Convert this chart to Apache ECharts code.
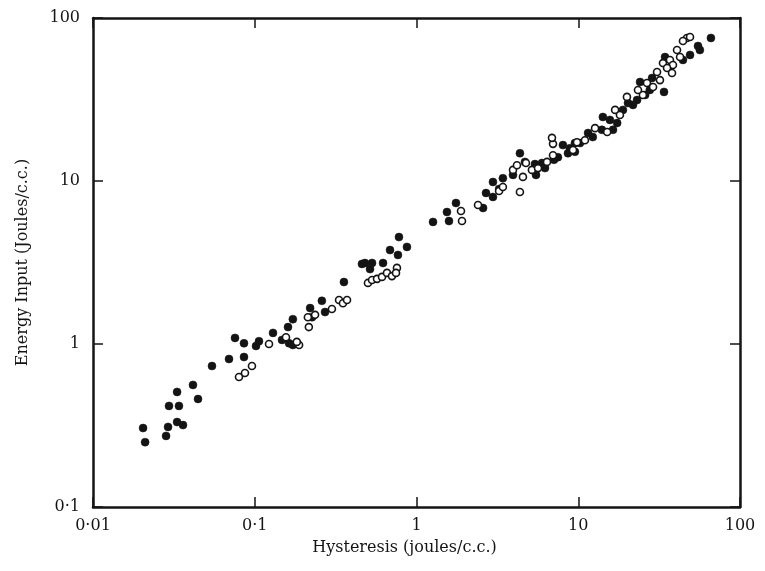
<!DOCTYPE html>
<html>
<head>
<meta charset="utf-8">
<script src="https://cdn.jsdelivr.net/npm/echarts@6/dist/echarts.min.js"></script>
<style>
html,body{margin:0;padding:0;background:#fff;}
#chart{width:765px;height:571px;}
</style>
</head>
<body>
<div id="chart"></div>
<script>
// Tick labels (log decades)
var xTickLabels = ['0·01', '0·1', '1', '10', '100'];
var yTickLabels = ['0·1', '1', '10', '100'];
var xTitle = 'Hysteresis (joules/c.c.)';
var yTitle = 'Energy Input (Joules/c.c.)';

// Filled circles: [hysteresis, energy input]
var filledPoints = [
  [0.0204, 0.305], [0.0210, 0.250], [0.0283, 0.273], [0.0291, 0.310], [0.0331, 0.332],
  [0.0360, 0.318], [0.0295, 0.417], [0.0340, 0.417], [0.0331, 0.508], [0.0415, 0.561],
  [0.0446, 0.460], [0.0544, 0.733], [0.0693, 0.809], [0.0858, 0.832], [0.0755, 1.09],
  [0.0858, 1.01], [0.1018, 0.972], [0.1062, 1.04], [0.1297, 1.17], [0.1474, 1.06],
  [0.163, 1.01], [0.172, 0.986], [0.1605, 1.27], [0.172, 1.42], [0.220, 1.66],
  [0.226, 1.46], [0.260, 1.84], [0.272, 1.57], [0.356, 2.40], [0.460, 3.10],
  [0.480, 3.14], [0.516, 2.88], [0.531, 3.14], [0.621, 3.14], [0.686, 3.77],
  [0.768, 3.52], [0.779, 4.53], [0.873, 3.94], [1.265, 5.61], [1.588, 5.68],
  [1.543, 6.45], [1.754, 7.33], [2.58, 6.83], [2.69, 8.44], [2.97, 7.98],
  [2.97, 9.86], [3.24, 8.93], [3.42, 10.4], [3.95, 10.9], [4.36, 14.8],
  [4.68, 13.1], [5.40, 12.7], [5.48, 10.9], [5.97, 12.9], [6.23, 12.0],
  [7.08, 13.5], [7.49, 14.0], [8.04, 16.6], [8.64, 14.8], [8.89, 15.9],
  [9.54, 17.1], [10.25, 17.1], [11.5, 19.7], [14.0, 20.6], [14.2, 24.7],
  [16.4, 20.6], [18.9, 27.3], [20.3, 30.1], [23.1, 31.4], [25.9, 33.7],
  [33.9, 35.2], [34.4, 57.6], [44.4, 55.3], [55.0, 67.3], [66.1, 75.4],
  [12.3, 18.6], [15.7, 23.7], [21.8, 29.3], [17.4, 22.7], [28.6, 42.8],
  [9.54, 15.1], [27.7, 36.2], [24.1, 40.5], [49.1, 59.3], [56.5, 63.6]
];

// Open circles: [hysteresis, energy input]
var openPoints = [
  [0.0799, 0.627], [0.0870, 0.664], [0.0961, 0.733], [0.1225, 1.00], [0.156, 1.10],
  [0.188, 0.986], [0.182, 1.03], [0.213, 1.46], [0.216, 1.27], [0.236, 1.51],
  [0.300, 1.64], [0.332, 1.86], [0.351, 1.78], [0.372, 1.86], [0.501, 2.37],
  [0.531, 2.47], [0.570, 2.51], [0.612, 2.58], [0.657, 2.73], [0.705, 2.61],
  [0.757, 2.93], [0.747, 2.73], [1.884, 6.55], [1.911, 5.68], [2.40, 7.13],
  [3.24, 8.68], [3.42, 9.19], [3.95, 11.7], [4.18, 12.5], [4.55, 10.6],
  [4.36, 8.56], [4.75, 12.9], [5.17, 11.7], [5.64, 12.0], [6.41, 13.1],
  [6.98, 16.9], [6.98, 14.4], [9.82, 17.3], [6.88, 18.4], [47.0, 75.4],
  [44.4, 72.3], [49.1, 76.5], [40.8, 63.6], [36.9, 55.3], [42.6, 57.6],
  [38.5, 51.5], [33.4, 52.9], [30.7, 46.6], [26.6, 39.9], [35.4, 49.3],
  [38.0, 46.0], [29.0, 37.7], [25.1, 33.7], [20.0, 32.8], [16.9, 27.3],
  [15.1, 20.0], [9.28, 15.5], [12.7, 21.1], [18.1, 25.4], [23.4, 36.2],
  [32.0, 41.6], [11.0, 17.8]
];

var INK = '#141414';
var FONT = '"DejaVu Serif", "Liberation Serif", serif';

function decadeLabel(labels, minExp) {
  return function (v) {
    var e = Math.round(Math.log10(v));
    var i = e - minExp;
    return (i >= 0 && i < labels.length) ? labels[i] : '';
  };
}

var chart = echarts.init(document.getElementById('chart'), null, {renderer: 'canvas'});

var axisCommon = {
  type: 'log',
  logBase: 10,
  splitLine: {show: false},
  minorTick: {show: false},
  axisLine: {show: true, lineStyle: {color: INK, width: 2.5}},
  axisTick: {show: true, inside: true, length: 10, lineStyle: {color: INK, width: 1.5}}
};

chart.setOption({
  backgroundColor: '#ffffff',
  animation: false,
  grid: {left: 93, right: 25, top: 18, bottom: 64, show: false},
  xAxis: [
    Object.assign({}, axisCommon, {
      min: 0.01, max: 100, position: 'bottom',
      name: xTitle, nameLocation: 'middle', nameGap: 33,
      nameTextStyle: {fontFamily: FONT, fontSize: 16, color: INK, padding: [0, 24, 0, 0]},
      axisLabel: {show: true, margin: 11, fontFamily: FONT, fontSize: 16, color: INK,
        formatter: decadeLabel(xTickLabels, -2)}
    }),
    Object.assign({}, axisCommon, {
      min: 0.01, max: 100, position: 'top',
      axisLabel: {show: false}
    })
  ],
  yAxis: [
    Object.assign({}, axisCommon, {
      min: 0.1, max: 100, position: 'left',
      name: yTitle, nameLocation: 'middle', nameGap: 62, nameRotate: 90,
      nameTextStyle: {fontFamily: FONT, fontSize: 16, color: INK},
      axisLabel: {show: true, margin: 13, fontFamily: FONT, fontSize: 16, color: INK,
        formatter: decadeLabel(yTickLabels, -1)}
    }),
    Object.assign({}, axisCommon, {
      min: 0.1, max: 100, position: 'right',
      axisLabel: {show: false}
    })
  ],
  series: [
    {
      type: 'scatter', name: 'filled', xAxisIndex: 0, yAxisIndex: 0,
      data: filledPoints, symbol: 'circle', symbolSize: 8,
      itemStyle: {color: INK, borderColor: INK, borderWidth: 0.5, opacity: 1}
    },
    {
      type: 'scatter', name: 'open', xAxisIndex: 0, yAxisIndex: 0,
      data: openPoints, symbol: 'circle', symbolSize: 7,
      itemStyle: {color: '#ffffff', borderColor: INK, borderWidth: 1.6, opacity: 1}
    }
  ]
});
</script>
</body>
</html>
